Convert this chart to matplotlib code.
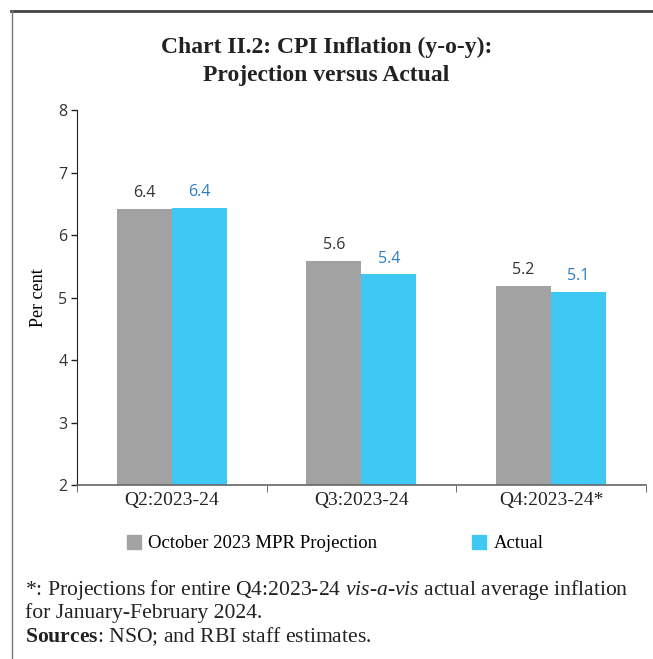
import numpy as np
import matplotlib
matplotlib.use("Agg")
import matplotlib.pyplot as plt
from matplotlib.lines import Line2D
from matplotlib.patches import Patch

# data
quarters = ["Q2:2023-24", "Q3:2023-24", "Q4:2023-24*"]
projection = [6.42, 5.59, 5.19]
actual = [6.44, 5.37, 5.09]
series_names = ["October 2023 MPR Projection", "Actual"]

gray = "#a2a2a2"
blue = "#3ec8f3"
serif = "Liberation Serif"
sans = "Open Sans"

plt.rcParams["mathtext.fontset"] = "custom"
plt.rcParams["mathtext.rm"] = serif
plt.rcParams["mathtext.it"] = serif + ":italic"
plt.rcParams["mathtext.bf"] = serif + ":bold"

fig = plt.figure(figsize=(6.53, 6.59), dpi=100)
ax = fig.add_axes([0.118, 0.264, 0.871, 0.569])

x = np.arange(len(quarters))
w = 0.29
b1 = ax.bar(x - w / 2, projection, w, color=gray)
b2 = ax.bar(x + w / 2, actual, w, color=blue)

for rect, v in zip(b1, projection):
    ax.text(rect.get_x() + rect.get_width() / 2, v + 0.12, f"{v:.1f}",
            ha="center", va="bottom", fontsize=11.5, color="#333333", family=sans)
for rect, v in zip(b2, actual):
    ax.text(rect.get_x() + rect.get_width() / 2, v + 0.12, f"{v:.1f}",
            ha="center", va="bottom", fontsize=11.5, color="#2a7fc4", family=sans)

ax.set_ylim(2, 8)
ax.set_xlim(-0.5, len(quarters) - 0.5)
ax.set_yticks(range(2, 9))
ax.set_yticklabels([str(t) for t in range(2, 9)], family=sans, fontsize=11.5, color="#333333")
ax.set_xticks(x)
ax.set_xticklabels(quarters, family=serif, fontsize=14, color="#222222")
ax.tick_params(axis="x", length=0, pad=5)
ax.set_xticks(np.arange(len(quarters) + 1) - 0.5, minor=True)
ax.tick_params(axis="x", which="minor", length=5, color="#555555")
ax.tick_params(axis="y", length=4, width=1, color="#222222", pad=3)

for s in ["top", "right"]:
    ax.spines[s].set_visible(False)
ax.spines["left"].set_color("#222222")
ax.spines["bottom"].set_color("#666666")
ax.spines["bottom"].set_linewidth(1.2)

ax.set_ylabel("Per cent", family=serif, fontsize=13, labelpad=8)

fig.text(0.5, 0.907, "Chart II.2: CPI Inflation (y-o-y):\nProjection versus Actual",
         ha="center", va="center", fontsize=17, fontweight="bold", family=serif,
         color="#222222", linespacing=1.45)

handles = [Patch(color=gray), Patch(color=blue)]
fig.legend(handles[:1], series_names[:1], loc="center left", bbox_to_anchor=(0.168, 0.175),
           frameon=False, prop={"family": serif, "size": 13.5}, handlelength=0.75,
           handleheight=0.75, handletextpad=0.4)
fig.legend(handles[1:], series_names[1:], loc="center left", bbox_to_anchor=(0.697, 0.175),
           frameon=False, prop={"family": serif, "size": 13.5}, handlelength=0.75,
           handleheight=0.75, handletextpad=0.4)

fig.text(0.038, 0.104, "*: Projections for entire Q4:2023-24 $\\it{vis}$-$\\it{a}$-$\\it{vis}$ actual average inflation",
         fontsize=15.6, family=serif, color="#222222", va="center")
fig.text(0.038, 0.069, "for January-February 2024.", fontsize=15.6, family=serif,
         color="#222222", va="center")
fig.text(0.038, 0.034, "$\\bf{Sources}$: NSO; and RBI staff estimates.", fontsize=15.6,
         family=serif, color="#222222", va="center")

# frame lines at top and left of the panel
fig.add_artist(Line2D([0.017, 1.0], [0.984, 0.984], transform=fig.transFigure,
                      color="#444444", lw=2))
fig.add_artist(Line2D([0.018, 0.018], [0.0, 0.984], transform=fig.transFigure,
                      color="#777777", lw=1))

fig.savefig("out.png", dpi=100)
